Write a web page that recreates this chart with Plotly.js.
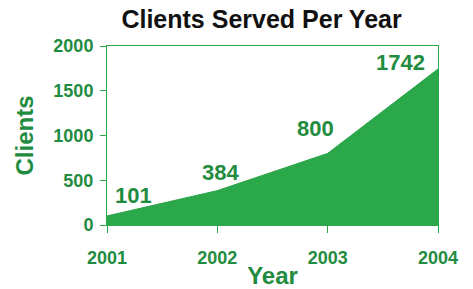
<!DOCTYPE html>
<html>
<head>
<meta charset="utf-8">
<script src="https://cdn.plot.ly/plotly-3.0.1.min.js"></script>
<style>html,body{margin:0;padding:0;background:#fff;}#chart{width:473px;height:289px;}</style>
</head>
<body>
<div id="chart"></div>
<script>
const years = [2001, 2002, 2003, 2004];
const clients = [101, 384, 800, 1742];
const yTicks = [0, 500, 1000, 1500, 2000];
const labelShiftX = [26, 3, -12, -38];
const labelShiftY = [20, 18, 25, 7];

const green = '#2aa84a';
const textGreen = '#1f8c3f';
const font = 'Liberation Sans, Arial, sans-serif';

const trace = {
  x: years, y: clients, type: 'scatter', mode: 'lines',
  fill: 'tozeroy', fillcolor: green,
  line: {color: '#23a045', width: 1},
  hoverinfo: 'skip'
};

const annotations = years.map((yr, i) => ({
  x: yr, y: clients[i], xref: 'x', yref: 'y',
  text: '<b>' + clients[i] + '</b>', showarrow: false,
  xshift: labelShiftX[i], yshift: labelShiftY[i],
  font: {family: font, size: 22, color: textGreen}
}));

const layout = {
  width: 473, height: 289,
  margin: {l: 107, r: 35, t: 46, b: 64},
  paper_bgcolor: '#fff', plot_bgcolor: '#fff',
  showlegend: false,
  title: {text: '<b>Clients Served Per Year</b>', x: 0.553, xanchor: 'center', y: 0.935, yanchor: 'middle',
          font: {family: font, size: 25, color: '#111'}},
  xaxis: {
    range: [2001, 2004], tickvals: years,
    showgrid: false, zeroline: false, showline: true, linecolor: green, linewidth: 1, mirror: true,
    ticks: 'outside', ticklen: 7, tickcolor: green, ticklabelstandoff: 9,
    tickfont: {family: font, size: 18, color: textGreen},
    title: {text: '<b>Year</b>', standoff: 2, font: {family: font, size: 24, color: textGreen}}
  },
  yaxis: {
    range: [0, 2000], tickvals: yTicks,
    showgrid: false, zeroline: false, showline: true, linecolor: green, linewidth: 1, mirror: true,
    ticks: 'outside', ticklen: 6, tickcolor: green, ticklabelstandoff: 3,
    tickfont: {family: font, size: 18, color: textGreen},
    title: {text: '<b>Clients</b>', standoff: 12, font: {family: font, size: 24, color: textGreen}}
  },
  annotations: annotations
};

layout.xaxis.ticktext = years.map(v => '<b>' + v + '</b>');
layout.yaxis.ticktext = yTicks.map(v => '<b>' + v + '</b>');

Plotly.newPlot('chart', [trace], layout, {displayModeBar: false, staticPlot: true});
</script>
</body>
</html>
